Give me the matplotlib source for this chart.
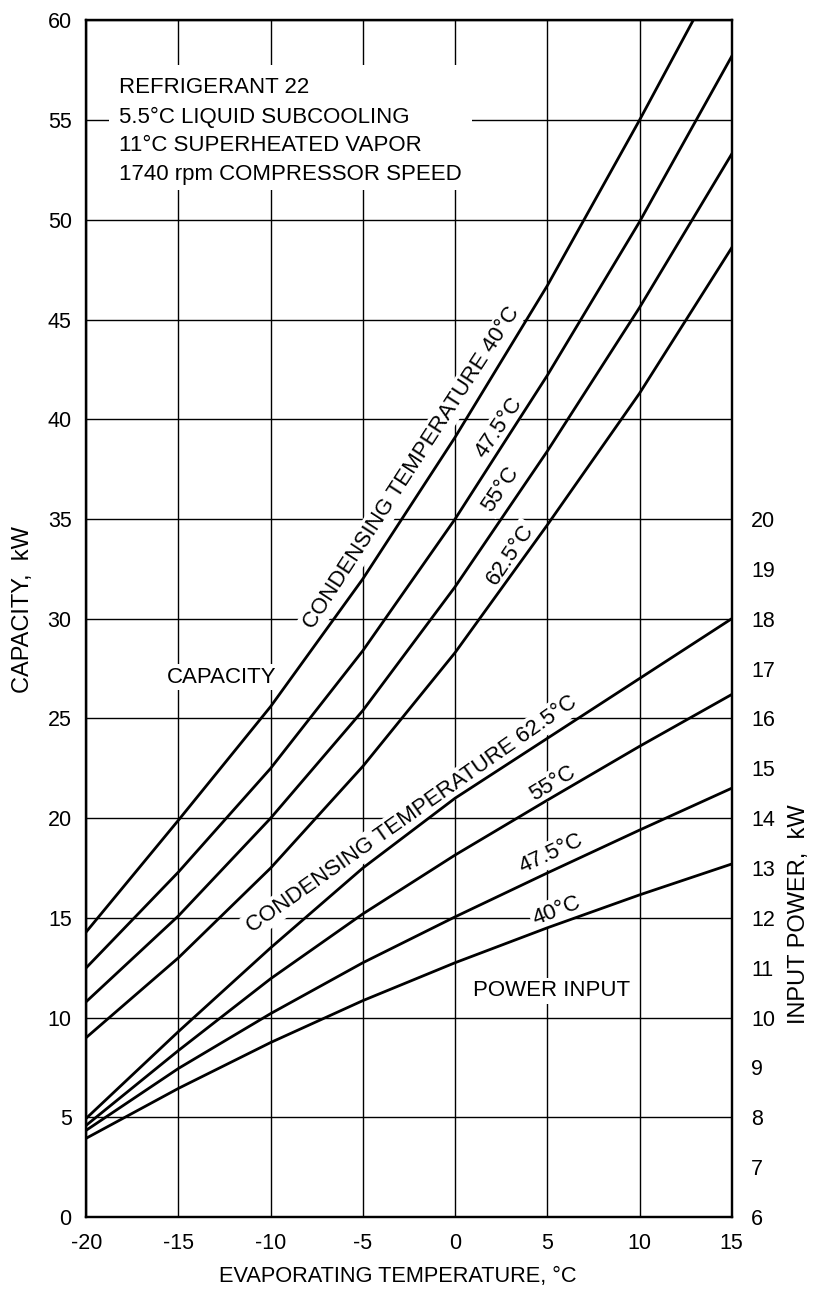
import numpy as np
import matplotlib.pyplot as plt
from matplotlib.patches import Rectangle

plt.rcParams.update({
    "font.family": ["Liberation Sans", "DejaVu Sans"],
    "axes.unicode_minus": False,
    "axes.linewidth": 1.6,
})

# ---------------------------------------------------------
# DATA
# ---------------------------------------------------------
evap_temp = [-20, -15, -10, -5, 0, 5, 10, 15]

# capacity, kW (left axis), one list per condensing temperature
cap_40 = [14.3, 19.9, 25.6, 32.0, 39.1, 46.7, 55.0, 63.6]
cap_475 = [12.5, 17.3, 22.5, 28.4, 35.0, 42.2, 49.9, 58.2]
cap_55 = [10.8, 15.1, 20.0, 25.4, 31.6, 38.4, 45.6, 53.3]
cap_625 = [9.0, 13.0, 17.5, 22.6, 28.3, 34.7, 41.3, 48.6]

# input power, kW (right axis)
pow_625 = [7.98, 9.72, 11.40, 13.00, 14.40, 15.60, 16.80, 18.00]
pow_55 = [7.84, 9.34, 10.78, 12.08, 13.26, 14.36, 15.44, 16.48]
pow_475 = [7.74, 8.98, 10.08, 11.10, 12.02, 12.90, 13.76, 14.60]
pow_40 = [7.58, 8.58, 9.50, 10.34, 11.10, 11.80, 12.46, 13.08]

x_ticks = [-20, -15, -10, -5, 0, 5, 10, 15]
cap_ticks = [0, 5, 10, 15, 20, 25, 30, 35, 40, 45, 50, 55, 60]
pow_ticks = [6, 7, 8, 9, 10, 11, 12, 13, 14, 15, 16, 17, 18, 19, 20]

notes = ["REFRIGERANT 22",
         "5.5°C LIQUID SUBCOOLING",
         "11°C SUPERHEATED VAPOR",
         "1740 rpm COMPRESSOR SPEED"]

# ---------------------------------------------------------
# FIGURE
# ---------------------------------------------------------
fig = plt.figure(figsize=(8.14, 13.02), dpi=100)
ax = fig.add_axes([0.106, 0.0653, 0.7929, 0.919])

ax.set_xlim(-20, 15)
ax.set_ylim(0, 60)
ax.set_xticks(x_ticks)
ax.set_xticklabels([str(t) for t in x_ticks])
ax.set_yticks(cap_ticks)
ax.set_yticklabels([str(t) for t in cap_ticks])
ax.tick_params(axis="both", length=0, labelsize=15.5)
ax.tick_params(axis="x", pad=11.5)
ax.tick_params(axis="y", pad=10.5)
ax.grid(True, color="black", linewidth=1.0)
ax.set_axisbelow(True)

lw = 2.0
for ys in (cap_40, cap_475, cap_55, cap_625):
    ax.plot(evap_temp, ys, color="black", linewidth=lw, zorder=4)

ax.set_xlabel("EVAPORATING TEMPERATURE, °C", fontsize=15.7)
ax.xaxis.set_label_coords(0.482, -0.041)
ax.set_ylabel("CAPACITY,  kW", fontsize=17)
ax.yaxis.set_label_coords(-0.081, 0.508)

box = dict(facecolor="white", edgecolor="none", pad=2)

# notes block on a white patch that breaks the grid
ax.add_patch(Rectangle((-18.77, 51.5), 19.69, 6.27, facecolor="white",
                       edgecolor="none", zorder=2.5))
for line, yb in zip(notes, [56.37, 54.86, 53.46, 52.0]):
    ax.text(-18.23, yb, line, fontsize=16, ha="left", va="baseline", zorder=3)

ax.text(-12.68, 27.07, "CAPACITY", fontsize=16, ha="center", va="center",
        zorder=3, bbox=box)
ax.text(5.24, 11.34, "POWER INPUT", fontsize=16, ha="center", va="center",
        zorder=3, bbox=box)

# capacity curve labels
ax.text(-2.35, 37.55, "CONDENSING TEMPERATURE 40°C", fontsize=16, rotation=57,
        ha="center", va="center", zorder=3, bbox=box)
ax.text(2.38, 39.57, "47.5°C", fontsize=16, rotation=56, ha="center",
        va="center", zorder=3, bbox=box)
ax.text(2.45, 36.5, "55°C", fontsize=16, rotation=56, ha="center",
        va="center", zorder=3, bbox=box)
ax.text(3.0, 33.2, "62.5°C", fontsize=16, rotation=56, ha="center",
        va="center", zorder=3, bbox=box)

# power curve labels
ax.text(-2.35, 20.2, "CONDENSING TEMPERATURE 62.5°C", fontsize=16, rotation=35,
        ha="center", va="center", zorder=3, bbox=box)
ax.text(5.31, 21.75, "55°C", fontsize=16, rotation=31, ha="center",
        va="center", zorder=3, bbox=box)
ax.text(5.19, 18.2, "47.5°C", fontsize=16, rotation=25, ha="center",
        va="center", zorder=3, bbox=box)
ax.text(5.51, 15.36, "40°C", fontsize=16, rotation=21, ha="center",
        va="center", zorder=3, bbox=box)

# right axis: input power
ax2 = ax.twinx()
ax2.set_ylim(6, 30)
ax2.set_yticks(pow_ticks)
ax2.set_yticklabels([str(t) for t in pow_ticks])
ax2.tick_params(axis="y", length=0, labelsize=15.5, pad=14)
for ys in (pow_625, pow_55, pow_475, pow_40):
    ax2.plot(evap_temp, ys, color="black", linewidth=lw, zorder=4)
ax2.set_ylabel("INPUT POWER,  kW", fontsize=17)
ax2.yaxis.set_label_coords(1.087, 0.253)
for s in ax2.spines.values():
    s.set_linewidth(1.6)

fig.savefig("out.png", dpi=100, facecolor="white")
